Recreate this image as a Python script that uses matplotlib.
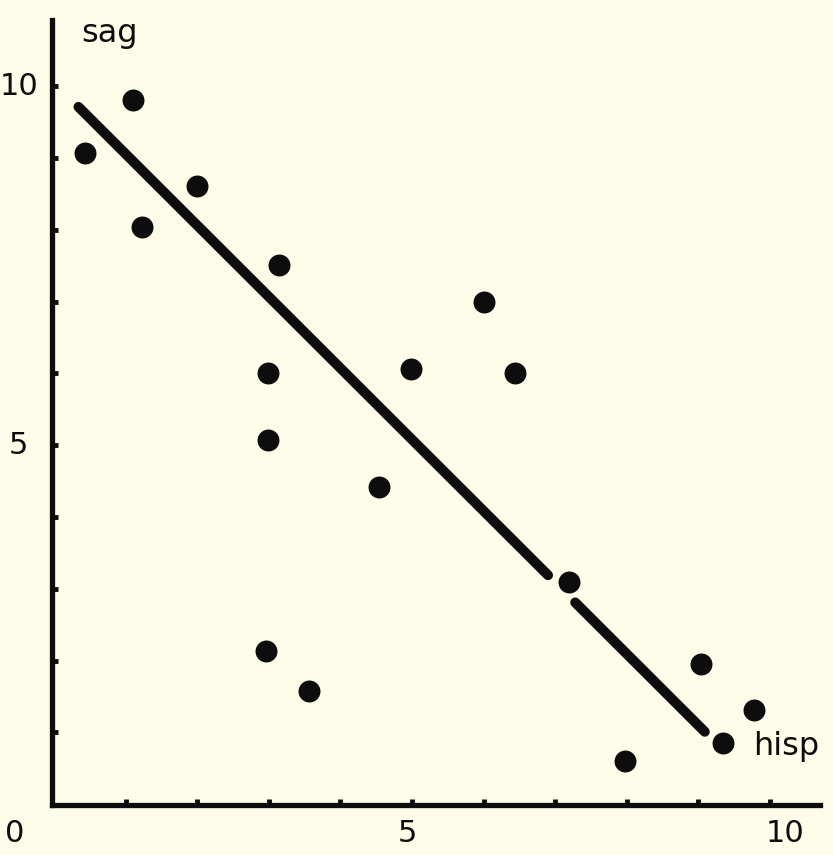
import matplotlib
matplotlib.use("Agg")
from matplotlib import pyplot as plt

# points
hisp = [0.43, 1.10, 1.23, 2.00, 3.14, 2.99, 2.99, 2.96, 3.56, 4.54,
        4.99, 6.00, 6.44, 7.19, 7.97, 9.04, 9.34, 9.78]
sag = [9.07, 9.81, 8.04, 8.61, 7.51, 6.00, 5.07, 2.13, 1.58, 4.42,
       6.06, 6.99, 6.00, 3.10, 0.60, 1.96, 0.86, 1.31]

# regression line, drawn in two pieces (gap around one point)
line1_x = [0.34, 6.90]
line1_y = [9.71, 3.19]
line2_x = [7.28, 9.09]
line2_y = [2.81, 1.01]

bg = "#fdfce8"
ink = "#0d0d0d"

fig = plt.figure(figsize=(8.33, 8.55), dpi=100, facecolor=bg)
ax = fig.add_axes([52/833, 1-805/855, 768/833, 785/855])
ax.set_facecolor(bg)

ax.plot(line1_x, line1_y, c=ink, lw=7.2, solid_capstyle='round')
ax.plot(line2_x, line2_y, c=ink, lw=7.2, solid_capstyle='round')
ax.scatter(hisp, sag, c=ink, s=250, zorder=3, linewidths=0)

ax.set_xlim(-0.03, 10.7)
ax.set_ylim(-0.01, 10.92)

for s in ['top', 'right']:
    ax.spines[s].set_visible(False)
for s in ['left', 'bottom']:
    ax.spines[s].set_linewidth(3.8)
    ax.spines[s].set_color(ink)

ax.set_xticks(range(1, 11))
ax.set_yticks(range(1, 11))
ax.set_xticklabels([])
ax.set_yticklabels([])
ax.tick_params(direction='in', length=4, width=3.5, color=ink)

# tick numbers, placed as in the original
fs = 22
ax.text(-0.22, 10, '10', fontsize=fs, color=ink, ha='right', va='center', clip_on=False)
ax.text(-0.50, 5, '5', fontsize=fs, color=ink, ha='center', va='center', clip_on=False)
ax.text(-0.545, -0.40, '0', fontsize=fs, color=ink, ha='center', va='center', clip_on=False)
ax.text(4.94, -0.40, '5', fontsize=fs, color=ink, ha='center', va='center', clip_on=False)
ax.text(10.21, -0.40, '10', fontsize=fs, color=ink, ha='center', va='center', clip_on=False)

ax.text(0.78, 10.62, 'sag', fontsize=23, color=ink, ha='center',
        va='baseline', clip_on=False)
ax.text(9.76, 0.68, 'hisp', fontsize=23, color=ink, ha='left',
        va='baseline', clip_on=False)

plt.savefig("out.png", dpi=100, facecolor=bg)
